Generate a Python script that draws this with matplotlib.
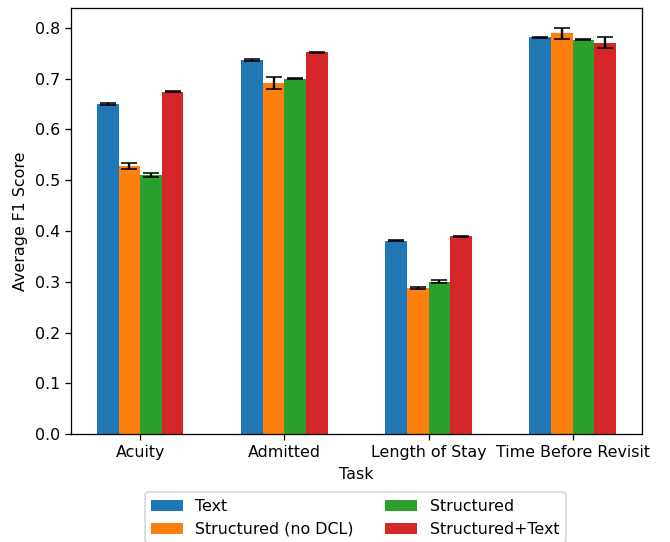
import numpy as np
import matplotlib.pyplot as plt

tasks = ["Acuity", "Admitted", "Length of Stay", "Time Before Revisit"]
methods = ["Text", "Structured (no DCL)", "Structured", "Structured+Text"]
colors = ["#1f77b4", "#ff7f0e", "#2ca02c", "#d62728"]

# average F1 per method, one entry per task
scores = {
    "Text": [0.650, 0.736, 0.381, 0.782],
    "Structured (no DCL)": [0.528, 0.691, 0.288, 0.789],
    "Structured": [0.510, 0.700, 0.300, 0.777],
    "Structured+Text": [0.674, 0.752, 0.390, 0.771],
}
errors = {
    "Text": [0.002, 0.002, 0.001, 0.001],
    "Structured (no DCL)": [0.006, 0.012, 0.002, 0.010],
    "Structured": [0.004, 0.001, 0.003, 0.001],
    "Structured+Text": [0.001, 0.001, 0.001, 0.011],
}

dpi = 114
fig = plt.figure(figsize=(670 / dpi, 542 / dpi), dpi=dpi)
ax = fig.add_axes([0.106, 0.199, 0.852, 0.786])

x = np.arange(len(tasks))
width = 0.15
for i, m in enumerate(methods):
    ax.bar(x + (i - 1.5) * width, scores[m], width, yerr=errors[m],
           capsize=5, color=colors[i], label=m)

ax.set_xticks(x)
ax.set_xticklabels(tasks)
ax.set_xlabel("Task")
ax.set_ylabel("Average F1 Score")

fig.legend(loc="upper center", bbox_to_anchor=(0.53, 0.106), ncol=2)

fig.savefig("out.png", dpi=dpi)
